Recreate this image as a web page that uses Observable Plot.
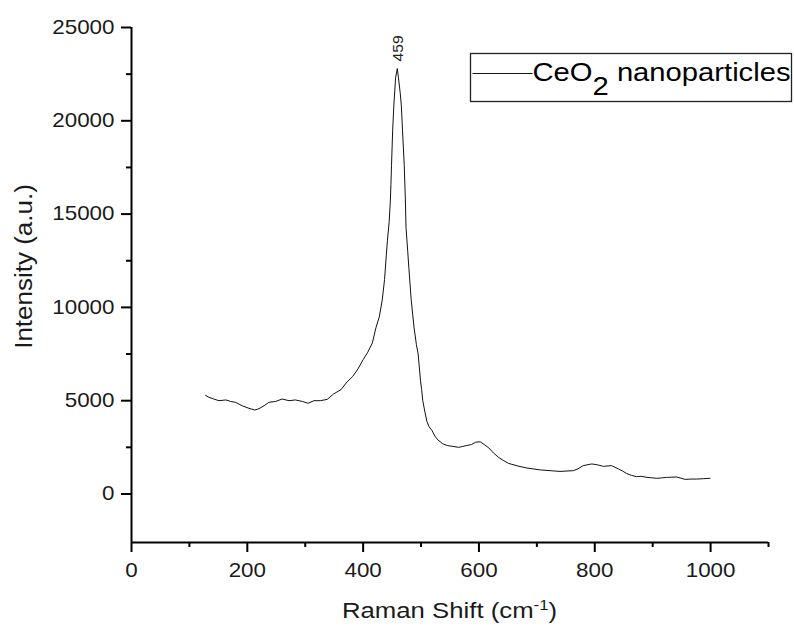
<!DOCTYPE html>
<html>
<head>
<meta charset="utf-8">
<script src="https://cdn.jsdelivr.net/npm/d3@7"></script>
<script src="https://cdn.jsdelivr.net/npm/@observablehq/plot@0.6"></script>
<style>
  html, body { margin: 0; padding: 0; background: #fff; }
  #chart svg { display: block; }
</style>
</head>
<body>
<div id="chart"></div>
<script>
// ---- data ----
const ramanShift = [128, 134, 142, 151, 163, 171, 180, 191, 203, 213, 220, 229, 237, 249, 260, 272, 283, 295, 305, 315, 326, 338, 349, 362, 372, 382, 391, 400, 408, 416, 422, 428, 433, 437, 440, 442, 445, 447, 448, 449, 451, 453, 456, 459, 461, 464, 466, 468, 471, 473, 474, 477, 479, 483, 488, 492, 495, 499, 501, 503, 506, 510, 514, 519, 524, 529, 537, 545, 555, 565, 572, 579, 587, 594, 602, 609, 617, 625, 634, 642, 651, 667, 683, 706, 723, 740, 763, 771, 780, 795, 805, 815, 829, 841, 848, 855, 863, 872, 880, 890, 898, 907, 915, 924, 933, 941, 949, 956, 966, 976, 988, 999];
const intensity = [5280, 5180, 5090, 5000, 5040, 4960, 4910, 4730, 4590, 4500, 4570, 4730, 4910, 4960, 5090, 5000, 5040, 4960, 4860, 5000, 5000, 5070, 5360, 5600, 6000, 6300, 6700, 7200, 7600, 8100, 8900, 9500, 10400, 11500, 12800, 13600, 14600, 15700, 16600, 17600, 19500, 20800, 22300, 22800, 22300, 21500, 20800, 19500, 17600, 15700, 14300, 13000, 12100, 10400, 8900, 8000, 7500, 6100, 5600, 5000, 4500, 3900, 3600, 3400, 3100, 2900, 2700, 2600, 2550, 2500, 2550, 2600, 2650, 2770, 2800, 2650, 2470, 2200, 1960, 1800, 1640, 1500, 1390, 1290, 1250, 1210, 1250, 1350, 1520, 1610, 1560, 1480, 1520, 1340, 1230, 1100, 1000, 930, 950, 890, 870, 840, 860, 890, 900, 910, 850, 780, 800, 800, 820, 840];

const peakShift = [459];
const peakIntensity = [22800];
const peakLabels = ["459"];

const xDomain = [0, 1100];
const yDomain = [-2600, 25000];
const xMajorTicks = [0, 200, 400, 600, 800, 1000];
const xMinorTicks = [100, 300, 500, 700, 900, 1100];
const yMajorTicks = [0, 5000, 10000, 15000, 20000, 25000];
const yMinorTicks = [2500, 7500, 12500, 17500, 22500];

const xTitleMain = "Raman Shift (cm";
const xTitleSup = "-1";
const xTitleEnd = ")";
const yTitle = "Intensity (a.u.)";
const seriesNameMain = "CeO";
const seriesNameSub = "2";
const seriesNameEnd = " nanoparticles";

// ---- build tables ----
const spectrum = ramanShift.map((x, i) => ({x, y: intensity[i]}));
const peaks = peakShift.map((x, i) => ({x, y: peakIntensity[i], label: peakLabels[i]}));

const fontFamily = "'Liberation Sans', Arial, Helvetica, sans-serif";
const ink = "#111";

const chart = Plot.plot({
  width: 794,
  height: 628,
  marginLeft: 131,
  marginRight: 26,
  marginTop: 27,
  marginBottom: 86,
  style: {fontFamily, fontSize: "20px", color: "#000", background: "#fff", overflow: "visible"},
  x: {domain: xDomain},
  y: {domain: yDomain},
  marks: [
    Plot.axisX({ticks: xMajorTicks, tickSize: 10, tickPadding: 10, strokeWidth: 2, tickFormat: d => String(d), label: null, fill: "#1a1a1a"}),
    Plot.axisX({ticks: xMinorTicks, tickSize: 5, strokeWidth: 2, tickFormat: () => "", label: null}),
    Plot.axisY({ticks: yMajorTicks, tickSize: 10, tickPadding: 7, strokeWidth: 2, tickFormat: d => String(d), label: null, fill: "#1a1a1a"}),
    Plot.axisY({ticks: yMinorTicks, tickSize: 5, strokeWidth: 2, tickFormat: () => "", label: null}),
    Plot.ruleX([xDomain[0]], {strokeWidth: 2, stroke: "#000"}),
    Plot.ruleY([yDomain[0]], {strokeWidth: 2, stroke: "#000"}),
    Plot.line(spectrum, {x: "x", y: "y", stroke: ink, strokeWidth: 1}),
    Plot.text(peaks, {x: "x", y: "y", text: "label", rotate: -90, textAnchor: "start", lineAnchor: "middle", dx: 1.5, dy: -7, fontSize: 14, fill: "#222"})
  ]
});

// widen glyphs slightly along reading direction to match reference typeface
chart.querySelectorAll("text").forEach(t => {
  const tr = t.getAttribute("transform");
  if (tr) t.setAttribute("transform", tr + " scale(1.12,1)");
});

const svg = d3.select(chart);

// x title
const gx = svg.append("g").attr("transform", "translate(449.5,618) scale(1.12,1)");
const tx = gx.append("text")
  .attr("text-anchor", "middle")
  .attr("font-family", fontFamily)
  .attr("font-size", 23)
  .attr("fill", "#1a1a1a");
tx.append("tspan").text(xTitleMain);
tx.append("tspan").attr("dy", -8).attr("font-size", 15).text(xTitleSup);
tx.append("tspan").attr("dy", 8).text(xTitleEnd);

// y title
svg.append("g").attr("transform", "translate(31.5,266.5) rotate(-90) scale(1.13,1)")
  .append("text")
  .attr("text-anchor", "middle")
  .attr("font-family", fontFamily)
  .attr("font-size", 23)
  .attr("fill", "#1a1a1a")
  .text(yTitle);

// legend
const lg = svg.append("g");
lg.append("rect")
  .attr("x", 470.5).attr("y", 53.5).attr("width", 321).attr("height", 48)
  .attr("fill", "#fff").attr("stroke", "#222").attr("stroke-width", 1.3);
lg.append("line")
  .attr("x1", 472.5).attr("x2", 532.5).attr("y1", 73.5).attr("y2", 73.5)
  .attr("stroke", ink).attr("stroke-width", 1);
const lt = lg.append("g").attr("transform", "translate(532.5,81.3) scale(1.145,1)")
  .append("text")
  .attr("text-anchor", "start")
  .attr("font-family", fontFamily)
  .attr("font-size", 25.5)
  .attr("fill", "#000");
lt.append("tspan").text(seriesNameMain);
lt.append("tspan").attr("dy", 13.4).text(seriesNameSub);
lt.append("tspan").attr("dy", -13.4).text(seriesNameEnd);

document.getElementById("chart").appendChild(chart);
</script>
</body>
</html>
